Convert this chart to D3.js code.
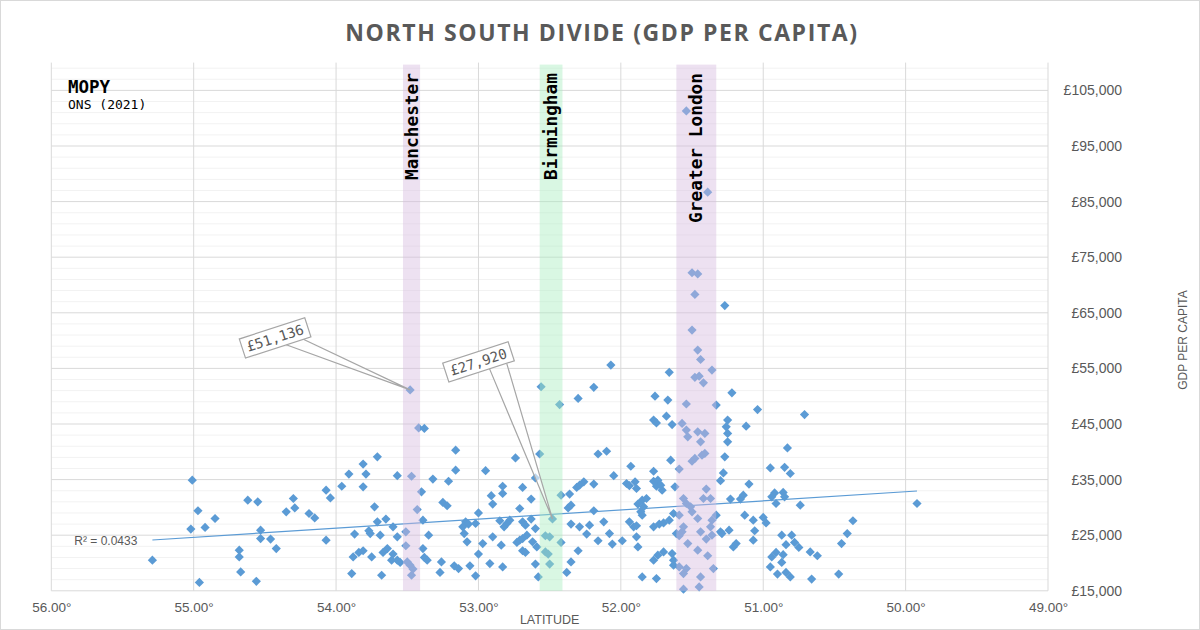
<!DOCTYPE html>
<html lang="en">
<head>
<meta charset="utf-8">
<title>North South Divide (GDP per capita)</title>
<script src="https://cdn.jsdelivr.net/npm/d3@7"></script>
<style>
  body { margin: 0; background: #fff; }
  svg { display: block; font-family: "Liberation Sans", Arial, sans-serif; }
</style>
</head>
<body>
<script>
// [latitude, GDP per capita £] for each area
const areas = [
  [55.29,20500],[55.01,34900],[54.97,29400],[55.02,26100],[54.92,26400],[54.85,28000],[54.96,16500],
  [54.62,31300],[54.55,31000],[54.53,25900],[54.53,24400],[54.46,24300],[54.42,22600],[54.68,22300],
  [54.68,21100],[54.67,18400],[54.56,16700],[54.35,29200],[54.30,31600],[54.29,29900],[54.19,28900],
  [54.15,28100],[54.07,33100],[54.04,31700],[54.07,24100],[53.96,33800],
  [53.91,36000],[53.81,37800],[53.79,36000],[53.71,39100],[53.81,33700],[53.57,35700],[53.47,35600],
  [53.32,35100],[53.21,34700],[53.16,40300],[53.16,36700],[53.40,32800],[53.73,30100],[53.25,30900],
  [53.22,30300],[53.43,29600],[53.71,27400],[53.65,27900],[53.39,27700],[53.77,25800],[53.76,25300],
  [53.60,26500],[53.51,25600],[53.69,25000],[53.57,24700],[53.35,25000],[53.87,25200],[53.09,27400],
  [53.07,27000],[53.11,26500],[53.02,27100],[53.00,29000],[53.10,25300],[53.08,23800],[53.88,21100],
  [53.84,21900],[53.81,22200],[53.75,21100],[53.67,21900],[53.64,22600],[53.60,21600],[53.57,20500],
  [53.61,20500],[53.51,23100],[53.55,20100],[53.50,20200],[53.48,19600],[53.46,18900],[53.47,17800],
  [53.39,22600],[53.38,21000],[53.36,20500],[53.89,18100],[53.68,17800],[53.26,20200],[53.27,18300],
  [53.17,19500],[53.14,19000],[53.06,19500],[53.02,17700],[53.00,21600],[53.42,44300],[53.38,44200],
  [53.48,51136],
  [52.56,51700],[52.43,48500],[52.30,49600],[52.19,51600],[52.74,38900],[52.57,39600],[52.16,39600],
  [52.10,40100],[52.95,36600],[51.93,37400],[52.05,35700],[52.60,35300],[52.83,33800],[52.91,32100],
  [52.83,32500],[52.90,30600],[52.69,33600],[52.63,31500],[52.71,29800],[52.42,32200],[52.36,32400],
  [52.31,33600],[52.26,34600],[52.29,34000],[52.19,34200],[52.37,29900],[52.35,30400],[51.96,34300],
  [51.90,34600],[51.89,33400],[51.94,33900],[52.85,27600],[52.80,27100],[52.78,27700],[52.82,26500],
  [52.69,27400],[52.63,27900],[52.67,26800],[52.48,27920],[52.35,27000],[52.29,26500],[52.22,26800],
  [52.19,29400],[52.12,27400],[51.94,27400],[51.91,26500],[51.89,26700],[52.60,26200],[52.90,24700],
  [52.97,23500],[52.84,23200],[52.73,23700],[52.71,24100],[52.69,24400],[52.66,25000],[52.62,23800],
  [52.59,22900],[52.53,24900],[52.50,24700],[52.42,23700],[52.24,25200],[52.16,24000],[52.08,25300],
  [52.06,23400],[51.99,24000],[51.89,24700],[51.88,22900],[52.69,22200],[52.67,21900],[52.53,22000],
  [52.51,21600],[52.30,22200],[52.92,19900],[52.83,19300],[52.60,19800],[52.50,19800],[52.35,20200],
  [52.58,17500],[52.38,18300],[51.85,17500],[52.07,55600],[51.85,31300],[51.82,31600],[51.84,30100],
  [51.88,30600],[51.85,28600],[51.86,29200],
  [51.76,50000],[51.67,49300],[51.54,48600],[51.33,48400],[51.22,50600],[51.68,46400],[51.77,45700],
  [51.75,45200],[51.64,44900],[51.57,45100],[51.54,43900],[51.53,42700],[51.46,43600],[51.41,43300],
  [51.44,41800],[51.25,45700],[51.26,44500],[51.25,43300],[51.25,41800],[51.12,44600],[51.65,38500],
  [51.50,38300],[51.48,38800],[51.43,39400],[51.41,39700],[51.27,39100],[51.59,36900],[51.77,36500],
  [51.28,36200],[51.30,34800],[51.77,34700],[51.74,34900],[51.75,33800],[51.71,33100],[51.72,34000],
  [51.62,33700],[51.40,33300],[51.37,31600],[51.42,31600],[51.56,31600],[51.54,30700],[51.51,30100],
  [51.23,31500],[51.16,31500],[51.14,32200],[51.10,34200],[51.04,47600],[51.59,28600],[51.50,29200],
  [51.46,28000],[51.36,27700],[51.33,28600],[51.63,28900],[51.66,27700],[51.77,26500],[51.73,27000],
  [51.70,27200],[51.56,26500],[51.57,25600],[51.59,24900],[51.44,25600],[51.37,26500],[51.36,25000],
  [51.40,24300],[51.30,25600],[51.24,25900],[51.29,25300],[51.13,28600],[51.07,27700],[51.06,25800],
  [51.07,24100],[51.61,25300],[51.53,23500],[51.46,22300],[51.39,21300],[51.21,22900],[51.19,23500],
  [51.77,20500],[51.74,21400],[51.70,22000],[51.64,21700],[51.63,20500],[51.63,19600],[51.59,19300],
  [51.54,19000],[51.56,18100],[51.35,19000],[51.75,17200],[51.44,17500],[51.45,15700],[51.56,15300],
  [51.54,101300],[51.39,86700],[51.50,72200],[51.46,72000],[51.48,68300],[51.27,66300],[51.50,61900],
  [51.46,58300],[51.44,56600],[51.36,54700],[51.48,53400],[51.45,53600],[51.42,52400],[51.66,54300],
  [50.71,46700],[50.83,40700],[50.95,37100],[50.85,37200],[50.81,36100],[50.92,32600],[50.94,31900],
  [50.91,30700],[50.86,32700],[50.85,31900],[50.74,30400],[49.92,30700],[51.00,28200],[50.98,27200],
  [50.87,25000],[50.80,25000],[50.84,23300],[50.78,23700],[50.75,22800],[50.67,22000],[50.62,21300],
  [50.37,27600],[50.41,25300],[50.45,23500],[50.94,21100],[50.91,21900],[50.86,21500],[50.87,20100],
  [50.95,19300],[50.90,18000],[50.84,18300],[50.81,17500],[50.66,17100],[50.47,18000]
];

// linear trendline end points
const trend = [[55.29, 24140], [49.92, 32950]];
const rSquared = "R² = 0.0433";

// highlighted cities (latitude band)
const cities = [
  {name: "Manchester", from: 53.53, to: 53.41},
  {name: "Birmingham", from: 52.57, to: 52.41},
  {name: "Greater London", from: 51.61, to: 51.33}
];

// labelled points
const callouts = [[53.48, 51136], [52.48, 27920]];

const latTicks = [56, 55, 54, 53, 52, 51, 50, 49];
const gdpTicks = [15000, 25000, 35000, 45000, 55000, 65000, 75000, 85000, 95000, 105000];

//Width and height
const w = 1200, h = 630;
const plotL = 51.3, plotR = 1048, plotT = 62.6, plotB = 590.8;

const x = d3.scaleLinear().domain([56, 49]).range([plotL, plotR]);
const y = d3.scaleLinear().domain([15000, 110000]).range([plotB, plotT]);

const bandColor = {"Manchester": "rgba(213,185,222,0.43)", "Birmingham": "rgba(166,236,190,0.43)", "Greater London": "rgba(213,185,222,0.43)"};

const svg = d3.select("body").append("svg")
  .attr("width", w)
  .attr("height", h);

svg.append("rect")
  .attr("x", 0.5).attr("y", 0.5)
  .attr("width", w - 1).attr("height", h - 1)
  .attr("fill", "#fff")
  .attr("stroke", "#d9d9d9");

//Title
svg.append("text")
  .attr("x", 602).attr("y", 41)
  .attr("text-anchor", "middle")
  .style("font-family", "'Open Sans', sans-serif")
  .style("font-weight", "bold")
  .style("font-size", "23px")
  .style("letter-spacing", "1.6px")
  .style("fill", "#595959")
  .text("NORTH SOUTH DIVIDE (GDP PER CAPITA)");

//Gridlines
const minor = d3.range(17000, 110000, 2000).filter(d => (d - 15000) % 10000 !== 0);
svg.append("g").selectAll("line")
  .data(minor)
  .enter().append("line")
  .attr("x1", plotL).attr("x2", plotR)
  .attr("y1", d => y(d)).attr("y2", d => y(d))
  .attr("stroke", "#f2f2f2");

svg.append("g").selectAll("line")
  .data(gdpTicks)
  .enter().append("line")
  .attr("x1", plotL).attr("x2", plotR)
  .attr("y1", d => y(d)).attr("y2", d => y(d))
  .attr("stroke", "#d9d9d9");

svg.append("g").selectAll("line")
  .data(latTicks)
  .enter().append("line")
  .attr("x1", d => x(d)).attr("x2", d => x(d))
  .attr("y1", plotT).attr("y2", plotB)
  .attr("stroke", "#d9d9d9");

//Axes
const xAxis = svg.append("g")
  .attr("transform", `translate(0,${plotB})`)
  .call(d3.axisBottom(x).tickValues(latTicks).tickSize(0).tickPadding(12)
    .tickFormat(d => d3.format(".2f")(d) + "°"));
xAxis.select(".domain").remove();
xAxis.selectAll("text")
  .style("font-size", "13.5px")
  .style("fill", "#595959")
  .style("font-family", "'Liberation Sans', sans-serif");

const yAxis = svg.append("g")
  .attr("transform", `translate(${plotR},0)`)
  .call(d3.axisRight(y).tickValues(gdpTicks).tickSize(0)
    .tickFormat(d => "£" + d3.format(",")(d)));
yAxis.select(".domain").remove();
yAxis.selectAll("text")
  .attr("x", 74)
  .attr("text-anchor", "end")
  .style("font-size", "14px")
  .style("fill", "#595959")
  .style("font-family", "'Liberation Sans', sans-serif");

svg.append("text")
  .attr("transform", "translate(1187,340) rotate(-90)")
  .attr("text-anchor", "middle")
  .style("font-size", "12px")
  .style("fill", "#595959")
  .text("GDP PER CAPITA");

svg.append("text")
  .attr("x", (plotL + plotR) / 2).attr("y", 624)
  .attr("text-anchor", "middle")
  .style("font-size", "12.5px")
  .style("fill", "#595959")
  .text("LATITUDE");

//Points
const diamond = "M0,-4.6L4.6,0L0,4.6L-4.6,0Z";
svg.append("g").selectAll("path")
  .data(areas)
  .enter().append("path")
  .attr("d", diamond)
  .attr("transform", d => `translate(${x(d[0])},${y(d[1])})`)
  .attr("fill", "#5b9bd5");

//Trendline
svg.append("line")
  .attr("x1", x(trend[0][0])).attr("y1", y(trend[0][1]))
  .attr("x2", x(trend[1][0])).attr("y2", y(trend[1][1]))
  .attr("stroke", "#5b9bd5")
  .attr("stroke-width", 1.2);

svg.append("text")
  .attr("x", x(trend[0][0]) - 15).attr("y", y(trend[0][1]) + 5)
  .attr("text-anchor", "end")
  .style("font-size", "12px")
  .style("fill", "#595959")
  .text(rSquared);

//City bands
svg.append("g").selectAll("rect")
  .data(cities)
  .enter().append("rect")
  .attr("x", d => x(d.from))
  .attr("width", d => x(d.to) - x(d.from))
  .attr("y", plotT + 2)
  .attr("height", plotB - plotT - 2)
  .attr("fill", d => bandColor[d.name]);

svg.append("g").selectAll("text")
  .data(cities)
  .enter().append("text")
  .attr("transform", d => `translate(${(x(d.from) + x(d.to)) / 2 + 6},73) rotate(-90)`)
  .attr("text-anchor", "end")
  .style("font-family", "'DejaVu Sans Mono', monospace")
  .style("font-weight", "bold")
  .style("font-size", "17.8px")
  .style("fill", "#000")
  .text(d => d.name);

//Source note
svg.append("text")
  .attr("x", 68).attr("y", 93)
  .style("font-family", "'DejaVu Sans Mono', monospace")
  .style("font-weight", "bold")
  .style("font-size", "17.5px")
  .text("MOPY");
svg.append("text")
  .attr("x", 68).attr("y", 109)
  .style("font-family", "'DejaVu Sans Mono', monospace")
  .style("font-size", "13px")
  .text("ONS (2021)");

//Callouts
const offsets = [[-135, -52], [-74, -157]];
const angle = -18 * Math.PI / 180;
callouts.forEach((c, i) => {
  const px = x(c[0]), py = y(c[1]);
  const cx = px + offsets[i][0], cy = py + offsets[i][1];
  const label = "£" + d3.format(",")(c[1]);
  const bw = label.length * 8.4 + 10, bh = 20;
  const rot = (lx, ly) => [cx + lx * Math.cos(angle) - ly * Math.sin(angle),
                           cy + lx * Math.sin(angle) + ly * Math.cos(angle)];
  const b1 = rot(bw / 2 - 26, bh / 2), b2 = rot(bw / 2 - 8, bh / 2);
  svg.append("path")
    .attr("d", `M${b1[0]},${b1[1]}L${px},${py}L${b2[0]},${b2[1]}`)
    .attr("fill", "#fff")
    .attr("fill-opacity", 0.6)
    .attr("stroke", "#a6a6a6")
    .attr("stroke-width", 1.2);
  const g = svg.append("g")
    .attr("transform", `translate(${cx},${cy}) rotate(-18)`);
  g.append("rect")
    .attr("x", -bw / 2).attr("y", -bh / 2)
    .attr("width", bw).attr("height", bh)
    .attr("fill", "#fff")
    .attr("stroke", "#a6a6a6")
    .attr("stroke-width", 1.2);
  g.append("text")
    .attr("y", 5)
    .attr("text-anchor", "middle")
    .style("font-family", "'DejaVu Sans Mono', monospace")
    .style("font-size", "14px")
    .style("fill", "#595959")
    .text(label);
});
</script>
</body>
</html>
